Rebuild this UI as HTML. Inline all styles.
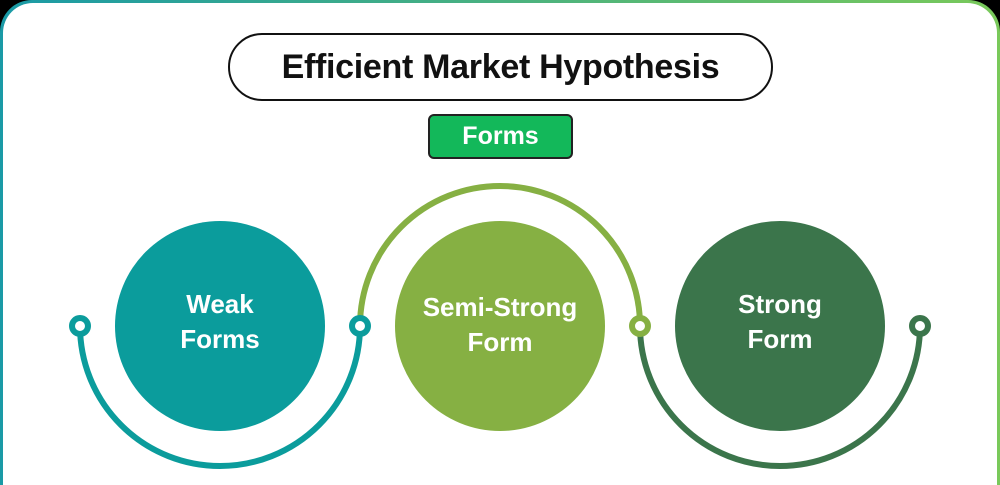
<!DOCTYPE html>
<html><head><style>
html,body{margin:0;padding:0;background:#000;width:1000px;height:485px;overflow:hidden;}
body{position:relative;font-family:"Liberation Sans",sans-serif;}
.frame{position:absolute;left:0;top:0;width:1000px;height:485px;border-radius:32px 32px 0 0;background:linear-gradient(90deg,#1a9aa6,#79c95a);}
.card{position:absolute;left:3px;top:3px;width:994px;height:482px;border-radius:30px 30px 0 0;background:#fff;}
.title{position:absolute;left:228px;top:33px;width:541px;height:64px;border:2px solid #111;border-radius:34px;background:#fff;text-align:center;line-height:64px;font-weight:bold;font-size:34px;color:#111;letter-spacing:-0.3px;}
.forms{position:absolute;left:428px;top:114px;width:141px;height:41px;border:2px solid #222;border-radius:6px;background:#13b85a;color:#fff;text-align:center;line-height:41px;font-weight:bold;font-size:25px;}
svg{position:absolute;left:0;top:0;}
</style></head><body>
<div class="frame"></div><div class="card"></div>
<div class="title">Efficient Market Hypothesis</div>
<div class="forms">Forms</div>
<svg width="1000" height="485" font-family="Liberation Sans, sans-serif" font-weight="bold" font-size="26" fill="#fff" text-anchor="middle">
<circle cx="220" cy="326" r="105" fill="#0b9c9c"/>
<circle cx="500" cy="326" r="105" fill="#86b043"/>
<circle cx="780" cy="326" r="105" fill="#3b754b"/>
<path d="M80 326 A140 140 0 0 0 360 326" fill="none" stroke="#0b9c9c" stroke-width="6"/>
<path d="M360 326 A140 140 0 0 1 640 326" fill="none" stroke="#86b043" stroke-width="6"/>
<path d="M640 326 A140 140 0 0 0 920 326" fill="none" stroke="#3b754b" stroke-width="6"/>
<circle cx="80" cy="326" r="8" fill="#fff" stroke="#0b9c9c" stroke-width="6"/>
<circle cx="360" cy="326" r="8" fill="#fff" stroke="#0b9c9c" stroke-width="6"/>
<circle cx="640" cy="326" r="8" fill="#fff" stroke="#86b043" stroke-width="6"/>
<circle cx="920" cy="326" r="8" fill="#fff" stroke="#3b754b" stroke-width="6"/>
<text x="220" y="313">Weak</text><text x="220" y="348">Forms</text>
<text x="500" y="316">Semi-Strong</text><text x="500" y="351">Form</text>
<text x="780" y="313">Strong</text><text x="780" y="348">Form</text>
</svg>
</body></html>
